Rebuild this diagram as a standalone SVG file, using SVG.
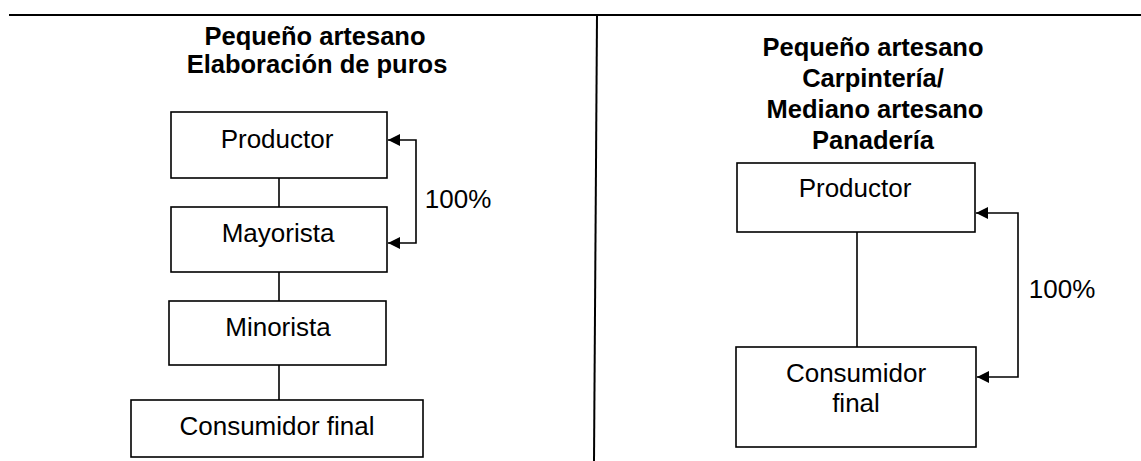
<svg xmlns="http://www.w3.org/2000/svg" width="1141" height="461" viewBox="0 0 1141 461">
<defs>
<style>
.box{fill:#fff;stroke:#000;stroke-width:1.6}
.t{font-family:"Liberation Sans",Arial,sans-serif;font-size:26px;fill:#000;text-anchor:middle}
.h{font-family:"Liberation Sans",Arial,sans-serif;font-size:25.5px;font-weight:bold;fill:#000;text-anchor:middle}
.ln{fill:none;stroke:#000;stroke-width:1.6}
.frame{fill:none;stroke:#000;stroke-width:2}
</style>
<marker id="ah" viewBox="0 0 10 10" refX="10" refY="5" markerUnits="userSpaceOnUse" markerWidth="13" markerHeight="12" orient="auto-start-reverse">
<path d="M0,0 L10,5 L0,10 z" fill="#000"/>
</marker>
</defs>
<rect width="1141" height="461" fill="#fff"/>
<g id="frame">
<line class="frame" x1="9" y1="15" x2="1141" y2="15"/>
<line class="frame" x1="597" y1="15" x2="594" y2="461"/>
</g>
<g id="titles">
<text class="h" x="315" y="45">Pequeño artesano</text>
<text class="h" x="317" y="73">Elaboración de puros</text>
<text class="h" x="873" y="56">Pequeño artesano</text>
<text class="h" x="873" y="87">Carpintería/</text>
<text class="h" x="875" y="118">Mediano artesano</text>
<text class="h" x="873" y="149">Panadería</text>
</g>
<g id="connectors">
<line class="ln" x1="279" y1="178" x2="279" y2="207"/>
<line class="ln" x1="279" y1="272" x2="279" y2="301"/>
<line class="ln" x1="279" y1="365" x2="279" y2="400"/>
<path class="ln" d="M388 140 H416 V243 H388" marker-start="url(#ah)" marker-end="url(#ah)"/>
<text class="t" x="458" y="208">100%</text>
<line class="ln" x1="857" y1="232" x2="857" y2="347"/>
<path class="ln" d="M976 213 H1018 V377 H977" marker-start="url(#ah)" marker-end="url(#ah)"/>
<text class="t" x="1062" y="298">100%</text>
</g>
<g id="l-productor">
<rect class="box" x="171" y="112" width="216" height="66"/>
<text class="t" x="277" y="148">Productor</text>
</g>
<g id="l-mayorista">
<rect class="box" x="171" y="207" width="216" height="65"/>
<text class="t" x="278" y="242">Mayorista</text>
</g>
<g id="l-minorista">
<rect class="box" x="169" y="301" width="217" height="64"/>
<text class="t" x="278" y="336">Minorista</text>
</g>
<g id="l-consumidor">
<rect class="box" x="131" y="400" width="292" height="57"/>
<text class="t" x="277" y="435">Consumidor final</text>
</g>
<g id="r-productor">
<rect class="box" x="737" y="163" width="238" height="69"/>
<text class="t" x="855" y="197">Productor</text>
</g>
<g id="r-consumidor">
<rect class="box" x="736" y="347" width="240" height="100"/>
<text class="t" x="856" y="382">Consumidor</text>
<text class="t" x="856" y="412">final</text>
</g>
</svg>
